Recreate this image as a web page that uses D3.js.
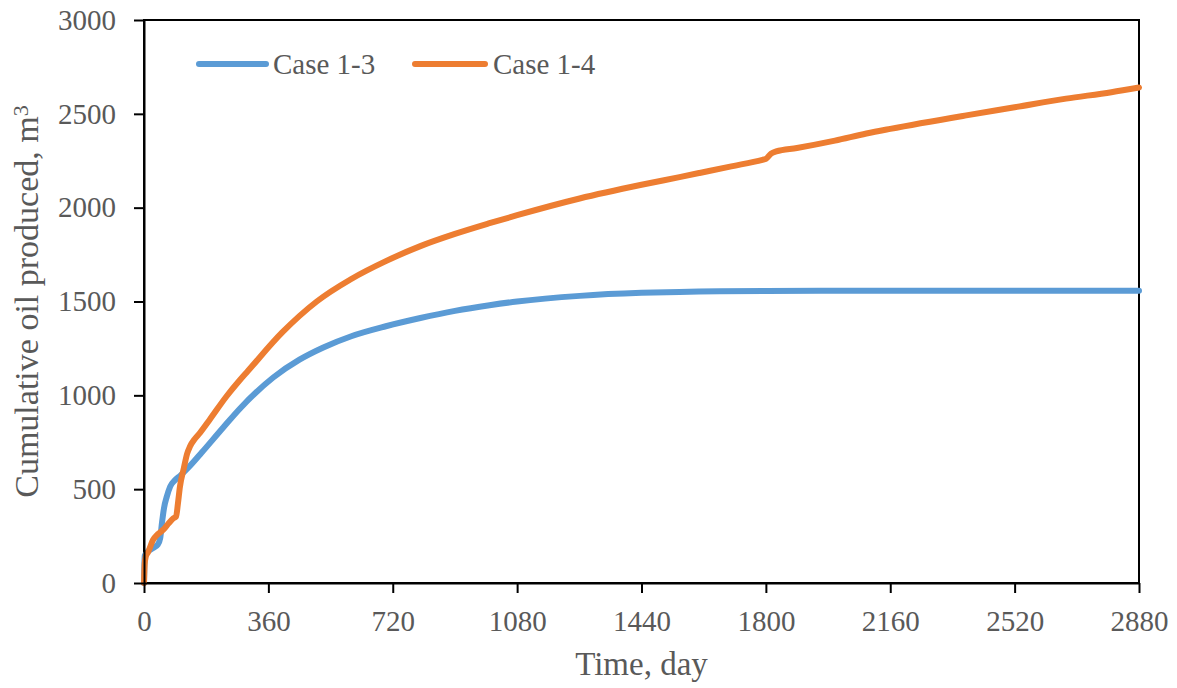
<!DOCTYPE html>
<html>
<head>
<meta charset="utf-8">
<script src="https://cdn.jsdelivr.net/npm/d3@7"></script>
<style>
  html, body { margin: 0; padding: 0; background: #fff; }
  svg { display: block; }
  text { font-family: "Liberation Serif", "Times New Roman", serif; fill: #595959; }
</style>
</head>
<body>
<svg id="chart" width="1177" height="688"></svg>
<script>
// ---- Data ----
const xTicks = [0, 360, 720, 1080, 1440, 1800, 2160, 2520, 2880];
const yTicks = [0, 500, 1000, 1500, 2000, 2500, 3000];

const seriesNames = ["Case 1-3", "Case 1-4"];
const seriesColors = ["#5B9BD5", "#ED7D31"];

const case13Days   = [0, 2, 10, 25, 40, 47, 52, 58, 66, 76, 88, 105, 130, 167, 230, 278, 374, 450, 519, 600, 700, 800, 900, 1000, 1080, 1261, 1440, 1550, 1800, 2160, 2520, 2880];
const case13Values = [0, 145, 165, 185, 205, 240, 320, 400, 460, 515, 545, 572, 618, 695, 830, 930, 1095, 1190, 1255, 1315, 1368, 1412, 1450, 1480, 1500, 1530, 1546, 1551, 1556, 1557, 1557, 1557];

const case14Days   = [0, 2, 5, 12, 26, 40, 56, 70, 85, 93, 98, 104, 115, 125, 133, 148, 162, 190, 239, 277, 300, 400, 500, 600, 700, 800, 900, 1000, 1080, 1261, 1440, 1550, 1608, 1700, 1790, 1800, 1815, 1830, 1890, 2000, 2091, 2160, 2380, 2520, 2669, 2800, 2880];
const case14Values = [0, 100, 140, 165, 229, 260, 284, 315, 345, 355, 420, 513, 610, 690, 727, 770, 800, 870, 995, 1080, 1128, 1335, 1500, 1620, 1715, 1795, 1860, 1917, 1960, 2049, 2122, 2163, 2185, 2220, 2255, 2260, 2288, 2300, 2318, 2357, 2395, 2420, 2492, 2535, 2581, 2615, 2640];

const xTitle = "Time, day";
const yTitle = "Cumulative oil produced, m";
const yTitleSup = "3";

// ---- Layout ----
const svg = d3.select("#chart");
const mLeft = 144, mRight = 1139, mTop = 20, mBottom = 583;

const x = d3.scaleLinear().domain([0, 2880]).range([mLeft, mRight]);
const y = d3.scaleLinear().domain([0, 3000]).range([mBottom, mTop]);

const series = [
  { name: seriesNames[0], color: seriesColors[0], pts: case13Days.map((d, i) => [d, case13Values[i]]) },
  { name: seriesNames[1], color: seriesColors[1], pts: case14Days.map((d, i) => [d, case14Values[i]]) }
];

// Frame
svg.append("rect")
  .attr("x", mLeft).attr("y", mTop)
  .attr("width", mRight - mLeft).attr("height", mBottom - mTop)
  .attr("fill", "none").attr("stroke", "#000").attr("stroke-width", 2);

// Lines
const line = d3.line().x(d => x(d[0])).y(d => y(d[1])).curve(d3.curveMonotoneX);
series.forEach(s => {
  svg.append("path")
    .datum(s.pts)
    .attr("d", line)
    .attr("fill", "none")
    .attr("stroke", s.color)
    .attr("stroke-width", 6)
    .attr("stroke-linejoin", "round")
    .attr("stroke-linecap", "round");
});

// Axes
const xAxis = svg.append("g")
  .attr("transform", `translate(0,${mBottom})`)
  .call(d3.axisBottom(x).tickValues(xTicks).tickSize(10).tickSizeOuter(0).tickPadding(17).tickFormat(d3.format("d")));
const yAxis = svg.append("g")
  .attr("transform", `translate(${mLeft},0)`)
  .call(d3.axisLeft(y).tickValues(yTicks).tickSize(10).tickSizeOuter(0).tickPadding(18).tickFormat(d3.format("d")));

[xAxis, yAxis].forEach(g => {
  g.select(".domain").attr("stroke", "#000").attr("stroke-width", 2);
  g.selectAll(".tick line").attr("stroke", "#000").attr("stroke-width", 2);
  g.selectAll(".tick text")
    .attr("fill", "#595959")
    .style("font-family", '"Liberation Serif", "Times New Roman", serif')
    .style("font-size", "29px");
});

// Axis titles
svg.append("text")
  .attr("x", (mLeft + mRight) / 2).attr("y", 675)
  .attr("text-anchor", "middle")
  .style("font-size", "33px")
  .text(xTitle);

const yt = svg.append("text")
  .attr("transform", `translate(38,${(mTop + mBottom) / 2}) rotate(-90)`)
  .attr("text-anchor", "middle")
  .style("font-size", "34px");
yt.append("tspan").text(yTitle);
yt.append("tspan").attr("dy", "-0.45em").style("font-size", "22px").text(yTitleSup);

// Legend
const legendItems = [
  { x1: 199, x2: 266, tx: 273 },
  { x1: 415, x2: 485, tx: 493 }
];
series.forEach((s, i) => {
  const L = legendItems[i];
  svg.append("line")
    .attr("x1", L.x1).attr("x2", L.x2).attr("y1", 64).attr("y2", 64)
    .attr("stroke", s.color).attr("stroke-width", 6).attr("stroke-linecap", "round");
  svg.append("text")
    .attr("x", L.tx).attr("y", 74)
    .style("font-size", "29px")
    .text(s.name);
});
</script>
</body>
</html>
